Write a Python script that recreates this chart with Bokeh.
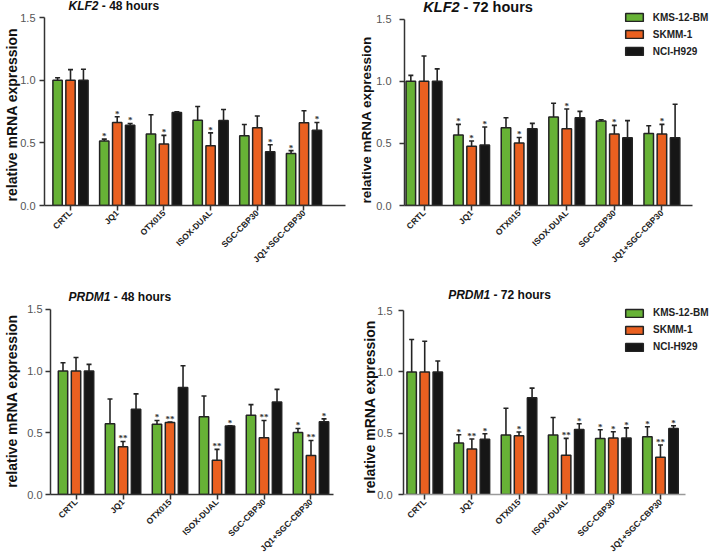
import math
from bokeh.plotting import figure
from bokeh.models import (Range1d, FixedTicker, NumeralTickFormatter, ColumnDataSource,
                          Whisker, TeeHead, Label, LabelSet, Legend, LegendItem)
from bokeh.layouts import column, row
from bokeh.embed import file_html
from bokeh.resources import INLINE

# ---------------- data ----------------
groups = ["CRTL", "JQ1", "OTX015", "ISOX-DUAL", "SGC-CBP30", "JQ1+SGC-CBP30"]
cell_lines = ["KMS-12-BM", "SKMM-1", "NCI-H929"]

# KLF2 - 48 hours
klf2_48_kms = [1.00, 0.515, 0.570, 0.680, 0.557, 0.416]
klf2_48_kms_err = [0.020, 0.015, 0.154, 0.110, 0.090, 0.022]
klf2_48_skmm = [1.00, 0.663, 0.490, 0.477, 0.620, 0.660]
klf2_48_skmm_err = [0.085, 0.045, 0.070, 0.103, 0.094, 0.096]
klf2_48_nci = [1.00, 0.640, 0.743, 0.679, 0.430, 0.600]
klf2_48_nci_err = [0.088, 0.015, 0.005, 0.088, 0.055, 0.063]
klf2_48_kms_sig = ["", "*", "", "", "", "*"]
klf2_48_skmm_sig = ["", "*", "*", "*", "", ""]
klf2_48_nci_sig = ["", "*", "", "", "*", "*"]

# KLF2 - 72 hours
klf2_72_kms = [1.00, 0.567, 0.626, 0.712, 0.680, 0.580]
klf2_72_kms_err = [0.048, 0.086, 0.081, 0.111, 0.010, 0.062]
klf2_72_skmm = [1.00, 0.478, 0.503, 0.618, 0.575, 0.575]
klf2_72_skmm_err = [0.204, 0.041, 0.045, 0.159, 0.070, 0.078]
klf2_72_nci = [1.00, 0.487, 0.618, 0.707, 0.546, 0.546]
klf2_72_nci_err = [0.100, 0.145, 0.043, 0.051, 0.137, 0.269]
klf2_72_kms_sig = ["", "*", "", "", "", ""]
klf2_72_skmm_sig = ["", "*", "*", "*", "*", "*"]
klf2_72_nci_sig = ["", "*", "", "", "", ""]

# PRDM1 - 48 hours
prdm1_48_kms = [1.00, 0.573, 0.570, 0.629, 0.642, 0.503]
prdm1_48_kms_err = [0.067, 0.201, 0.030, 0.169, 0.086, 0.032]
prdm1_48_skmm = [1.00, 0.387, 0.583, 0.277, 0.460, 0.315]
prdm1_48_skmm_err = [0.110, 0.043, 0.004, 0.089, 0.140, 0.123]
prdm1_48_nci = [1.00, 0.690, 0.866, 0.554, 0.750, 0.589]
prdm1_48_nci_err = [0.054, 0.125, 0.177, 0.002, 0.102, 0.024]
prdm1_48_kms_sig = ["", "", "*", "", "", "*"]
prdm1_48_skmm_sig = ["", "**", "**", "**", "**", "**"]
prdm1_48_nci_sig = ["", "", "", "*", "", "*"]

# PRDM1 - 72 hours
prdm1_72_kms = [1.00, 0.420, 0.485, 0.485, 0.458, 0.472]
prdm1_72_kms_err = [0.265, 0.068, 0.219, 0.143, 0.070, 0.081]
prdm1_72_skmm = [1.00, 0.372, 0.480, 0.320, 0.461, 0.305]
prdm1_72_skmm_err = [0.251, 0.081, 0.030, 0.138, 0.051, 0.099]
prdm1_72_nci = [1.00, 0.450, 0.790, 0.531, 0.461, 0.539]
prdm1_72_nci_err = [0.089, 0.046, 0.078, 0.046, 0.083, 0.022]
prdm1_72_kms_sig = ["", "*", "", "", "*", "*"]
prdm1_72_skmm_sig = ["", "**", "*", "**", "*", "**"]
prdm1_72_nci_sig = ["", "*", "", "*", "*", "*"]

y_ticks = [0.0, 0.5, 1.0, 1.5]
y_axis_max = 1.5
y_label = "relative mRNA expression"

# ---------------- style ----------------
COLORS = ["#67b236", "#ea6020", "#161616"]
OFFSETS = [-0.277, 0.0, 0.277]
BAR_W = 0.2
FONT = "Liberation Sans"
EDGE = "#232323"
NBSP = "\u00a0"

# approx Arial bold advance widths (em) for title positioning
CHAR_W = {"K": .722, "L": .611, "F": .611, "2": .556, "P": .667, "R": .722,
          "D": .722, "M": .833, "1": .556}


def make_panel(gene, hours, series, width, height, mbl, mbb, xr, x_axis_end, y_end,
               title_pos, title_size, ytick_standoff, ylab_standoff, ylab_size, ylab_pad,
               legend_loc=None, xaxis_color="#333"):
    p = figure(width=width, height=height, x_range=Range1d(*xr), y_range=Range1d(0, y_end),
               output_backend="svg", toolbar_location=None, title=None,
               min_border_left=mbl, min_border_right=0, min_border_top=0,
               min_border_bottom=mbb, outline_line_color=None,
               background_fill_color="white", border_fill_color="white")
    p.grid.visible = False

    renderers = []
    for k, (vals, errs, sig) in enumerate(series):
        xs = [i + OFFSETS[k] for i in range(len(groups))]
        upper = [v + e for v, e in zip(vals, errs)]
        src = ColumnDataSource(dict(x=xs, top=vals, upper=upper, star=sig))
        r = p.vbar(x="x", top="top", bottom=0, width=BAR_W, source=src,
                   fill_color=COLORS[k], line_color=EDGE, line_width=1.5)
        renderers.append(r)
        w = Whisker(source=src, base="x", lower="top", upper="upper", dimension="height",
                    line_color=EDGE, line_width=1.6,
                    upper_head=TeeHead(size=5, line_color=EDGE, line_width=1.6),
                    lower_head=None)
        p.add_layout(w)
        stars = LabelSet(x="x", y="upper", text="star", source=src, text_align="center",
                         text_baseline="alphabetic", text_font=FONT, text_font_style="bold",
                         text_font_size="9px", text_color="#333", y_offset=0)
        p.add_layout(stars)

    # x axis
    xa = p.xaxis[0]
    xa.axis_label = None
    xa.ticker = FixedTicker(ticks=list(range(len(groups))))
    xa.bounds = (xr[0], x_axis_end)
    xa.major_label_overrides = {i: g for i, g in enumerate(groups)}
    xa.major_label_orientation = math.pi / 4
    xa.major_label_text_font = FONT
    xa.major_label_text_font_size = "8.5px"
    xa.major_label_text_font_style = "bold"
    xa.major_label_text_color = "#222"
    xa.major_label_standoff = 1
    xa.major_tick_in = 0
    xa.major_tick_out = 5
    xa.minor_tick_in = 0
    xa.minor_tick_out = 0
    xa.axis_line_color = xaxis_color
    xa.axis_line_width = 1.5
    xa.major_tick_line_color = "#333"
    xa.major_tick_line_width = 1.5

    # y axis
    ya = p.yaxis[0]
    ya.ticker = FixedTicker(ticks=y_ticks)
    ya.bounds = (0, y_axis_max)
    ya.formatter = NumeralTickFormatter(format="0.0")
    ya.major_label_text_font = FONT
    ya.major_label_text_font_size = "11px"
    ya.major_label_text_color = "#555"
    ya.major_label_standoff = ytick_standoff
    ya.major_tick_in = 0
    ya.major_tick_out = 5
    ya.minor_tick_in = 0
    ya.minor_tick_out = 0
    ya.axis_line_color = "#333"
    ya.axis_line_width = 1.5
    ya.major_tick_line_color = "#333"
    ya.major_tick_line_width = 1.5
    # trailing no-break spaces push the (frame-centred) label down to sit along 0-1.5
    ya.axis_label = y_label + NBSP * ylab_pad
    ya.axis_label_text_font = FONT
    ya.axis_label_text_font_style = "bold"
    ya.axis_label_text_font_size = f"{ylab_size}px"
    ya.axis_label_text_color = "#111"
    ya.axis_label_standoff = ylab_standoff

    # title (italic gene + plain remainder), inside the frame area
    tx, ty = title_pos
    p.add_layout(Label(x=tx, y=ty, x_units="screen", y_units="screen", text=gene,
                       text_font=FONT, text_font_style="bold italic",
                       text_font_size=f"{title_size}px", text_baseline="middle",
                       text_align="left", text_color="#111"))
    gw = (sum(CHAR_W.get(c, .6) for c in gene) + 0.278) * title_size
    p.add_layout(Label(x=tx + gw, y=ty, x_units="screen", y_units="screen",
                       text=f"- {hours} hours", text_font=FONT, text_font_style="bold",
                       text_font_size=f"{title_size}px", text_baseline="middle",
                       text_align="left", text_color="#111"))

    if legend_loc is not None:
        items = [LegendItem(label=n, renderers=[r]) for n, r in zip(cell_lines, renderers)]
        lg = Legend(items=items, location=legend_loc, orientation="vertical",
                    glyph_width=22, glyph_height=10, label_height=10, label_width=10,
                    spacing=6, padding=0, margin=0, label_standoff=8,
                    label_text_font=FONT, label_text_font_size="10px",
                    label_text_font_style="bold", label_text_color="#222",
                    border_line_alpha=0, background_fill_alpha=0)
        p.add_layout(lg)
    return p


p1 = make_panel("KLF2", 48,
                [(klf2_48_kms, klf2_48_kms_err, klf2_48_kms_sig),
                 (klf2_48_skmm, klf2_48_skmm_err, klf2_48_skmm_sig),
                 (klf2_48_nci, klf2_48_nci_err, klf2_48_nci_sig)],
                355, 280, 44, 74, (-0.557, 6.103), 5.889, 1.6366, (24, 199.8), 12,
                4, -3, 14, 6)
p2 = make_panel("KLF2", 72,
                [(klf2_72_kms, klf2_72_kms_err, klf2_72_kms_sig),
                 (klf2_72_skmm, klf2_72_skmm_err, klf2_72_skmm_sig),
                 (klf2_72_nci, klf2_72_nci_err, klf2_72_nci_sig)],
                354, 280, 49, 75, (-0.41, 6.0), 5.642, 1.6506, (18.8, 198.3), 14.5,
                8, -1, 13.5, 9, legend_loc=(218.8, 148.5))
p3 = make_panel("PRDM1", 48,
                [(prdm1_48_kms, prdm1_48_kms_err, prdm1_48_kms_sig),
                 (prdm1_48_skmm, prdm1_48_skmm_err, prdm1_48_skmm_sig),
                 (prdm1_48_nci, prdm1_48_nci_err, prdm1_48_nci_sig)],
                355, 279, 50, 64, (-0.543, 5.947), 5.479, 1.7339, (18, 197.5), 12,
                3, 4, 14, 7)
p4 = make_panel("PRDM1", 72,
                [(prdm1_72_kms, prdm1_72_kms_err, prdm1_72_kms_sig),
                 (prdm1_72_skmm, prdm1_72_skmm_err, prdm1_72_skmm_sig),
                 (prdm1_72_nci, prdm1_72_nci_err, prdm1_72_nci_sig)],
                354, 279, 48, 63, (-0.45, 6.04), 5.531, 1.7466, (44.7, 199.3), 12,
                6, -4, 14, 10, legend_loc=(220, 141.8), xaxis_color="#9a9a9a")

layout = column(row(p1, p2), row(p3, p4))
open("out.html", "w").write(file_html(layout, INLINE))
